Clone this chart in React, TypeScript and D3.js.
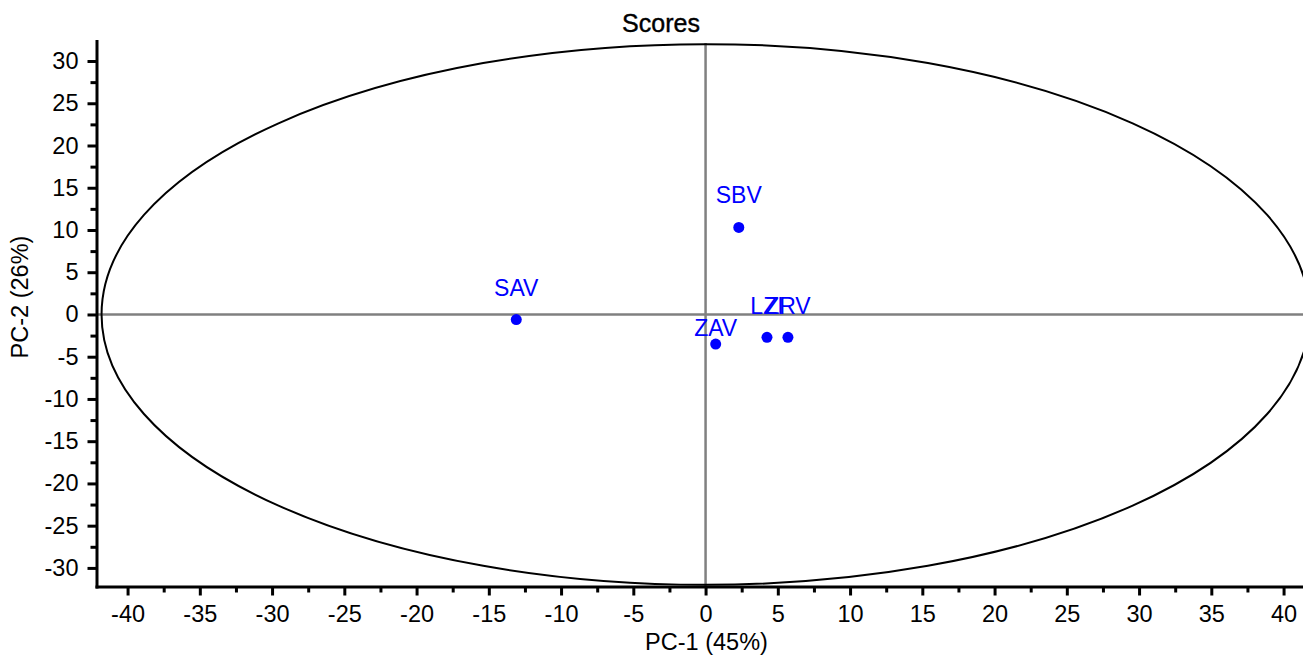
import React, { useEffect, useRef } from "react";
import * as d3 from "d3";

// PCA scores, PC-1 (45%) vs PC-2 (26%)
const sampleNames = ["SAV", "SBV", "ZAV", "LZI", "ZRV"];
const pc1Scores = [-13.1, 2.3, 0.7, 4.25, 5.7];
const pc2Scores = [-0.6, 10.3, -3.5, -2.7, -2.7];

const xTickValues = [-40, -35, -30, -25, -20, -15, -10, -5, 0, 5, 10, 15, 20, 25, 30, 35, 40];
const yTickValues = [-30, -25, -20, -15, -10, -5, 0, 5, 10, 15, 20, 25, 30];

// Hotelling T2 ellipse half-axes, in score units
const ellipseHalfAxes = [41.8, 32.0];

// how far above its point each label sits (px)
const labelLift: Record<string, number> = { SAV: 24, SBV: 24, ZAV: 8, LZI: 23, ZRV: 23 };

const W = 1303;
const H = 655;
const FONT = "'Liberation Sans', Arial, sans-serif";
const TICK_FS = 23.5;

export default function App() {
  const ref = useRef<SVGSVGElement>(null);

  useEffect(() => {
    const svg = d3.select(ref.current);
    svg.selectAll("*").remove();

    const left = 96.5, top = 41, bottom = 586.5;
    const x = d3.scaleLinear().domain([-42.15, 42.2]).range([left, left + 84.35 * 14.45]);
    const y = d3.scaleLinear().domain([-32.2, 32.37]).range([bottom, top]);

    const points = sampleNames.map((name, i) => ({ name, px: pc1Scores[i], py: pc2Scores[i] }));

    // zero lines
    svg.append("line")
      .attr("x1", left).attr("x2", W + 20)
      .attr("y1", y(0)).attr("y2", y(0))
      .attr("stroke", "#808080").attr("stroke-width", 2.5);
    svg.append("line")
      .attr("x1", x(0)).attr("x2", x(0))
      .attr("y1", top + 2).attr("y2", bottom)
      .attr("stroke", "#808080").attr("stroke-width", 2.5);

    // ellipse
    svg.append("ellipse")
      .attr("cx", x(0)).attr("cy", y(0))
      .attr("rx", x(ellipseHalfAxes[0]) - x(0))
      .attr("ry", y(0) - y(ellipseHalfAxes[1]))
      .attr("fill", "none")
      .attr("stroke", "#000")
      .attr("stroke-width", 2);

    // minor ticks halfway between the majors
    const xMinor = xTickValues.slice(1).map((v, i) => (v + xTickValues[i]) / 2);
    const yMinor = yTickValues.slice(1).map((v, i) => (v + yTickValues[i]) / 2);

    const styleAxis = (g: any) => {
      g.select(".domain").attr("stroke-width", 3).attr("stroke-linecap", "square");
      g.selectAll(".tick line").attr("stroke-width", 3);
      g.selectAll(".tick text").attr("font-size", TICK_FS).attr("font-family", FONT).attr("fill", "#000");
    };

    const gx = svg.append("g")
      .attr("transform", `translate(0,${bottom})`)
      .call(d3.axisBottom(x).tickValues(xTickValues).tickSize(9).tickSizeOuter(0).tickPadding(9.5).tickFormat((d: any) => String(d)));
    styleAxis(gx);
    svg.append("g")
      .attr("transform", `translate(0,${bottom})`)
      .call(d3.axisBottom(x).tickValues(xMinor).tickSize(6).tickSizeOuter(0).tickFormat(() => ""))
      .call((g: any) => { g.select(".domain").remove(); g.selectAll(".tick line").attr("stroke-width", 3); });

    const gy = svg.append("g")
      .attr("transform", `translate(${left},0)`)
      .call(d3.axisLeft(y).tickValues(yTickValues).tickSize(9).tickSizeOuter(0).tickPadding(9).tickFormat((d: any) => String(d)));
    styleAxis(gy);
    svg.append("g")
      .attr("transform", `translate(${left},0)`)
      .call(d3.axisLeft(y).tickValues(yMinor).tickSize(6).tickSizeOuter(0).tickFormat(() => ""))
      .call((g: any) => { g.select(".domain").remove(); g.selectAll(".tick line").attr("stroke-width", 3); });

    // points and labels
    svg.append("g")
      .selectAll("circle")
      .data(points)
      .enter().append("circle")
      .attr("cx", d => x(d.px))
      .attr("cy", d => y(d.py))
      .attr("r", 5.5)
      .attr("fill", "#0000ff");

    svg.append("g")
      .selectAll("text")
      .data(points)
      .enter().append("text")
      .attr("x", d => x(d.px))
      .attr("y", d => y(d.py) - labelLift[d.name])
      .attr("text-anchor", "middle")
      .attr("font-family", FONT)
      .attr("font-size", 23)
      .attr("fill", "#0000ff")
      .text(d => d.name);

    // titles
    svg.append("text")
      .attr("x", 661).attr("y", 32)
      .attr("text-anchor", "middle")
      .attr("font-family", FONT)
      .attr("font-size", 25)
      .attr("stroke", "#000")
      .attr("stroke-width", 0.4)
      .text("Scores");

    svg.append("text")
      .attr("x", 706.5).attr("y", 650)
      .attr("text-anchor", "middle")
      .attr("font-family", FONT)
      .attr("font-size", TICK_FS)
      .attr("fill", "#000")
      .text("PC-1 (45%)");

    svg.append("text")
      .attr("transform", "translate(28,297) rotate(-90)")
      .attr("text-anchor", "middle")
      .attr("font-family", FONT)
      .attr("font-size", TICK_FS)
      .attr("fill", "#000")
      .text("PC-2 (26%)");
  }, []);

  return (
    <svg
      ref={ref}
      width={W}
      height={H}
      style={{ position: "absolute", left: 0, top: 0, background: "#fff" }}
    />
  );
}
